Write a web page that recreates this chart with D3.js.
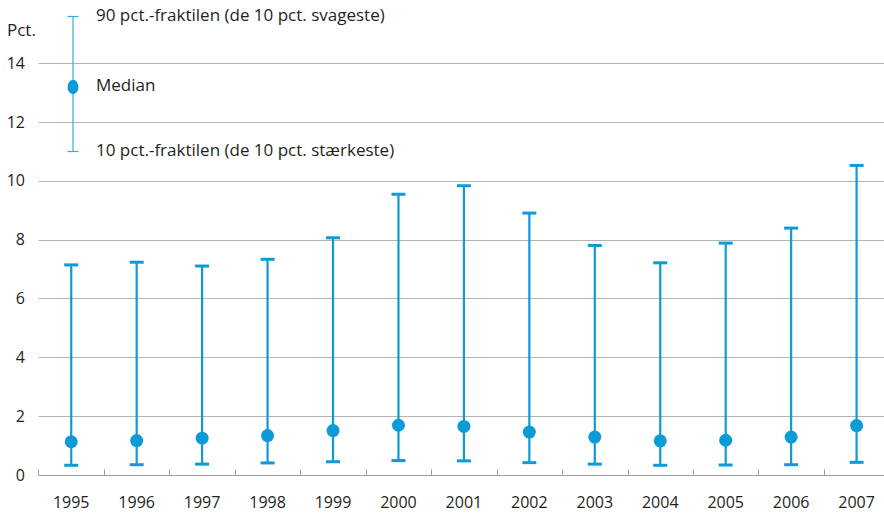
<!DOCTYPE html>
<html>
<head>
<meta charset="utf-8">
<script src="https://cdn.jsdelivr.net/npm/d3@7"></script>
<style>
  body { margin: 0; background: #fff; }
  svg text { font-family: "Open Sans", sans-serif; fill: #231f20; }
</style>
</head>
<body>
<div id="chart"></div>
<script>
const years = ["1995", "1996", "1997", "1998", "1999", "2000", "2001", "2002", "2003", "2004", "2005", "2006", "2007"];
const p90 = [7.14, 7.23, 7.10, 7.33, 8.06, 9.54, 9.83, 8.90, 7.80, 7.21, 7.88, 8.39, 10.52];
const medians = [1.13, 1.17, 1.25, 1.34, 1.51, 1.69, 1.65, 1.46, 1.29, 1.16, 1.18, 1.29, 1.68];
const p10 = [0.33, 0.35, 0.37, 0.41, 0.45, 0.49, 0.48, 0.42, 0.37, 0.33, 0.34, 0.35, 0.43];
const yTicks = [0, 2, 4, 6, 8, 10, 12, 14];

const legendLabels = {
    top: "90 pct.-fraktilen (de 10 pct. svageste)",
    mid: "Median",
    bottom: "10 pct.-fraktilen (de 10 pct. stærkeste)"
};

const data = years.map((y, i) => ({year: y, hi: p90[i], med: medians[i], lo: p10[i]}));

const width = 884, height = 513;
const blue = "#0d9bd7";

const svg = d3.select("#chart")
    .append("svg")
    .attr("width", width)
    .attr("height", height);

const x = d3.scaleBand()
    .domain(years)
    .range([38.5, 889.3])
    .padding(0);

const y = d3.scaleLinear()
    .domain([0, 14])
    .range([475, 63]);

// gridlines
svg.append("g")
    .selectAll("line")
    .data(yTicks.filter(d => d > 0))
    .enter()
    .append("line")
    .attr("x1", 38.5)
    .attr("x2", width)
    .attr("y1", d => Math.round(y(d)) + 0.5)
    .attr("y2", d => Math.round(y(d)) + 0.5)
    .attr("stroke", "#b3b3b3")
    .attr("stroke-width", 1);

// y labels
svg.append("g")
    .selectAll("text")
    .data(yTicks)
    .enter()
    .append("text")
    .attr("x", 25)
    .attr("y", d => y(d))
    .attr("dy", "0.36em")
    .attr("text-anchor", "end")
    .style("font-size", "16px")
    .text(d => d);

svg.append("text")
    .attr("x", 7)
    .attr("y", 36)
    .style("font-size", "17px")
    .text("Pct.");

// x axis with ticks pointing up
const xAxis = svg.append("g")
    .attr("transform", `translate(0,${Math.round(y(0)) + 0.5})`);

xAxis.append("line")
    .attr("x1", 38.5)
    .attr("x2", width)
    .attr("stroke", "#9d9d9d");

xAxis.selectAll("line.tick")
    .data(years)
    .enter()
    .append("line")
    .attr("class", "tick")
    .attr("x1", d => Math.round(x(d)) + 0.5)
    .attr("x2", d => Math.round(x(d)) + 0.5)
    .attr("y1", 0)
    .attr("y2", -6)
    .attr("stroke", "#9d9d9d");

xAxis.selectAll("text")
    .data(years)
    .enter()
    .append("text")
    .attr("x", d => x(d) + x.bandwidth() / 2)
    .attr("y", 32)
    .attr("text-anchor", "middle")
    .style("font-size", "16px")
    .text(d => d);

// error bars
const bars = svg.append("g")
    .selectAll("g")
    .data(data)
    .enter()
    .append("g")
    .attr("transform", d => `translate(${x(d.year) + x.bandwidth() / 2},0)`);

bars.append("line")
    .attr("y1", d => y(d.hi))
    .attr("y2", d => y(d.lo))
    .attr("stroke", blue)
    .attr("stroke-width", 2.2);

bars.append("line")
    .attr("x1", -7)
    .attr("x2", 7)
    .attr("y1", d => y(d.hi))
    .attr("y2", d => y(d.hi))
    .attr("stroke", blue)
    .attr("stroke-width", 3);

bars.append("line")
    .attr("x1", -7)
    .attr("x2", 7)
    .attr("y1", d => y(d.lo))
    .attr("y2", d => y(d.lo))
    .attr("stroke", blue)
    .attr("stroke-width", 3);

bars.append("circle")
    .attr("cy", d => y(d.med))
    .attr("r", 6.5)
    .attr("fill", blue);

// legend
const legend = svg.append("g").attr("transform", "translate(73,0)");

legend.append("line")
    .attr("y1", 16.5)
    .attr("y2", 151.5)
    .attr("stroke", "#3aa8de")
    .attr("stroke-width", 1.2);

[16.5, 151.5].forEach(v => {
    legend.append("line")
        .attr("x1", -5.5)
        .attr("x2", 5.5)
        .attr("y1", v)
        .attr("y2", v)
        .attr("stroke", "#3aa8de")
        .attr("stroke-width", 1.2);
});

legend.append("ellipse")
    .attr("cy", 87)
    .attr("rx", 5.5)
    .attr("ry", 7.2)
    .attr("fill", blue);

legend.append("text")
    .attr("x", 23)
    .attr("y", 21)
    .style("font-size", "17px")
    .text(legendLabels.top);

legend.append("text")
    .attr("x", 23)
    .attr("y", 91)
    .style("font-size", "17px")
    .text(legendLabels.mid);

legend.append("text")
    .attr("x", 23)
    .attr("y", 156)
    .style("font-size", "17px")
    .text(legendLabels.bottom);
</script>
</body>
</html>
